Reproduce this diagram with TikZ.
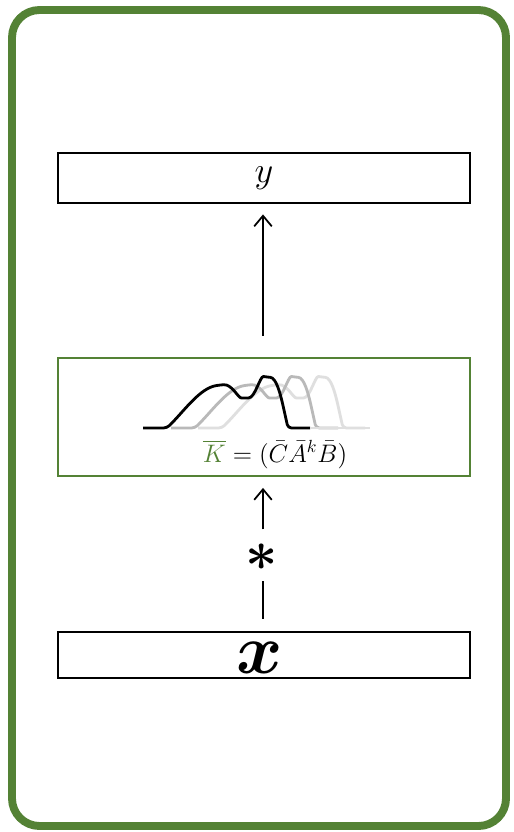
\documentclass[tikz,border=0pt]{standalone}
\usepackage{amsmath,bm}
\usepackage{tikz}
\usetikzlibrary{arrows.meta, positioning, calc}
\definecolor{SSMGreen}{RGB}{84, 130, 53}

\begin{document}
\begin{tikzpicture}[
    x=0.02cm, y=-0.02cm,
    >={Straight Barb[length=6pt, width=10pt]},
    layerbox/.style = {
        rectangle, draw=black, line width=1pt, fill=white,
        minimum width=8.24cm, inner sep=0pt
    },
    kernelbox/.style = {
        rectangle, draw=SSMGreen, line width=1.6pt, fill=white,
        minimum width=8.24cm, minimum height=2.36cm, inner sep=0pt
    },
    arrow/.style = {->, line width=1pt, color=black},
    wave/.style = {line width=1.6pt, rounded corners=2pt}
]
\useasboundingbox (0,0) rectangle (514,832);

% ===== FRAME =====
\draw[SSMGreen, line width=4.5pt, rounded corners=0.55cm] (12,10) rectangle (506,826);

% ===== OUTPUT =====
\node[layerbox, minimum height=1cm] (ybox) at (264,178) {\huge$y$};

% ===== KERNEL =====
\node[kernelbox] (kbox) at (264,417) {};
\node[inner sep=0pt] (kform) at (275,454) {\Large$\color{SSMGreen}\overline{K}\color{black} = (\bar{C}\bar{A}^{k}\bar{B})$};

% kernel curves, shifted copies
\foreach \dx/\col in {55/gray!25, 28/gray!55, 0/black} {
    \draw[wave, \col, shift={(\dx,0)}]
        (143,428) -- (167,428)
        .. controls (185,410) and (200,388) .. (220,385)
        .. controls (232,384) and (238,398) .. (245,398)
        .. controls (255,398) and (260,376) .. (267,377)
        .. controls (276,378) and (280,392) .. (284,410)
        -- (288,428) -- (310,428);
}
\draw[wave, gray!25] (310,428) -- (370,428);

% ===== INPUT =====
\node[layerbox, minimum height=0.92cm] (xbox) at (264,655) {};
\node[inner sep=0pt] (xsym) at (260,658) {\scalebox{4}{$\bm{x}$}};

% ===== CONVOLUTION =====
\node[inner sep=0pt] (conv) at (262,557) {\scalebox{3.2}{$\bm{\ast}$}};

% ===== ARROWS =====
\draw[arrow] ([yshift=12pt]kbox.north -| 263,0) -- ([yshift=-6pt]ybox.south -| 263,0);
\draw[line width=1pt] ([yshift=7pt]xbox.north -| 263,0) -- ([yshift=-6pt]conv.south -| 263,0);
\draw[arrow] ([yshift=8pt]conv.north -| 263,0) -- ([yshift=-6pt]kbox.south -| 263,0);
\end{tikzpicture}
\end{document}
